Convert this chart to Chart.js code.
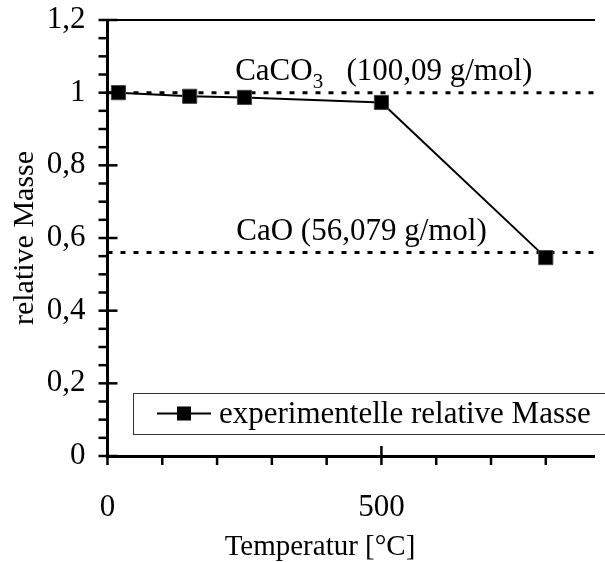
<!DOCTYPE html>
<html>
<head>
<meta charset="utf-8">
<script src="https://cdn.jsdelivr.net/npm/chart.js@4.4.0/dist/chart.umd.min.js"></script>
<style>
  html, body { margin: 0; padding: 0; background: #fff; overflow: hidden; }
  canvas { display: block; }
</style>
</head>
<body>
<canvas id="chart" width="605" height="562"></canvas>
<script>
const temps = [20, 150, 250, 500, 800];
const relMass = [1.0, 0.99, 0.987, 0.973, 0.546];
const seriesLabel = 'experimentelle relative Masse';

const refLevels = [1.0, 0.5603];
const refNames = ['CaCO', 'CaO'];
const refSubs = ['3', ''];
const refMolar = ['   (100,09 g/mol)', ' (56,079 g/mol)'];
const refLabelX = [233, 235];
const refLabelY = [1.035, 0.594];

const xMin = 0, xMax = 888;
const xLabelTicks = [0, 500];
const yLabelEvery = 0.2;

const serif = "'Liberation Serif', 'Times New Roman', serif";
const fs = 31;

const mainData = temps.map((t, i) => ({ x: t, y: relMass[i] }));
const refDatasets = refLevels.map(level => ({
    label: 'ref',
    data: [{ x: xMin, y: level }, { x: xMax, y: level }],
    borderColor: '#000',
    borderWidth: 3,
    borderDash: [5, 8],
    pointRadius: 0,
    showLine: true,
    fill: false
}));

const tickMarks = {
    id: 'tickMarks',
    afterDraw(chart) {
        const ctx = chart.ctx;
        const x = chart.scales.x, y = chart.scales.y;
        const ax = x.left, ay = y.bottom;
        ctx.save();
        ctx.strokeStyle = '#000';
        ctx.lineWidth = 2.5;
        y.ticks.forEach(t => {
            const py = y.getPixelForValue(t.value);
            const major = Math.abs(t.value / yLabelEvery - Math.round(t.value / yLabelEvery)) < 1e-6;
            ctx.beginPath();
            ctx.moveTo(ax - 9, py);
            ctx.lineTo(major ? ax + 10 : ax, py);
            ctx.stroke();
        });
        x.ticks.forEach(t => {
            const px = x.getPixelForValue(t.value);
            const major = xLabelTicks.includes(t.value);
            ctx.beginPath();
            ctx.moveTo(px, ay + 9);
            ctx.lineTo(px, major ? ay - 10 : ay);
            ctx.stroke();
        });
        ctx.restore();
    }
};

const annotations = {
    id: 'annotations',
    afterDatasetsDraw(chart) {
        const ctx = chart.ctx;
        const x = chart.scales.x, y = chart.scales.y;
        ctx.save();
        ctx.fillStyle = '#000';
        ctx.textBaseline = 'alphabetic';
        ctx.textAlign = 'left';
        refNames.forEach((name, i) => {
            let px = x.getPixelForValue(refLabelX[i]);
            const py = y.getPixelForValue(refLabelY[i]);
            ctx.font = fs + 'px ' + serif;
            ctx.fillText(name, px, py);
            px += ctx.measureText(name).width;
            if (refSubs[i]) {
                ctx.font = '21px ' + serif;
                ctx.fillText(refSubs[i], px, py + 8);
                px += ctx.measureText(refSubs[i]).width;
            }
            ctx.font = fs + 'px ' + serif;
            ctx.fillText(refMolar[i], px, py);
        });
        ctx.restore();
    }
};

const boxLegend = {
    id: 'boxLegend',
    afterDraw(chart) {
        const ctx = chart.ctx;
        const ds = chart.data.datasets[0];
        const left = 133, top = 393, h = 41;
        const cy = top + h / 2;
        ctx.save();
        ctx.fillStyle = '#fff';
        ctx.fillRect(left, top, chart.width - left + 5, h);
        ctx.strokeStyle = '#333';
        ctx.lineWidth = 1;
        ctx.strokeRect(left + 0.5, top + 0.5, chart.width - left + 5, h);
        ctx.strokeStyle = ds.borderColor;
        ctx.lineWidth = ds.borderWidth;
        ctx.beginPath();
        ctx.moveTo(157, cy);
        ctx.lineTo(211, cy);
        ctx.stroke();
        ctx.fillStyle = ds.pointBackgroundColor;
        ctx.fillRect(177, cy - 7, 14, 14);
        ctx.fillStyle = '#000';
        ctx.font = fs + 'px ' + serif;
        ctx.textBaseline = 'middle';
        ctx.fillText(ds.label, 219, cy + 1);
        ctx.restore();
    }
};

const xTitle = {
    id: 'xTitle',
    afterDraw(chart) {
        const ctx = chart.ctx;
        ctx.save();
        ctx.fillStyle = '#000';
        ctx.font = '29px ' + serif;
        ctx.textAlign = 'center';
        ctx.textBaseline = 'middle';
        ctx.fillText('Temperatur [°C]', 320, 547);
        ctx.restore();
    }
};

new Chart(document.getElementById('chart').getContext('2d'), {
    type: 'scatter',
    data: {
        datasets: [
            {
                label: seriesLabel,
                data: mainData,
                showLine: true,
                borderColor: '#000',
                borderWidth: 2,
                pointStyle: 'rect',
                pointRadius: 10,
                pointBackgroundColor: '#000',
                pointBorderColor: '#444',
                pointBorderWidth: 1,
                tension: 0
            },
            ...refDatasets
        ]
    },
    options: {
        responsive: false,
        animation: false,
        layout: { padding: 0 },
        plugins: {
            legend: { display: false },
            tooltip: { enabled: false }
        },
        scales: {
            x: {
                type: 'linear',
                position: 'bottom',
                min: xMin,
                max: xMax,
                afterFit(s) { s.height = 106; s.paddingLeft = 0; s.paddingRight = 0; },
                grid: { display: false, drawTicks: false },
                border: { display: true, color: '#000', width: 3 },
                ticks: {
                    stepSize: 100,
                    includeBounds: false,
                    autoSkip: false,
                    maxRotation: 0,
                    padding: 33,
                    color: '#000',
                    font: { family: serif, size: 31 },
                    callback: v => xLabelTicks.includes(v) ? String(v) : ''
                }
            },
            x2: {
                type: 'linear',
                position: 'top',
                min: xMin,
                max: xMax,
                afterFit(s) { s.height = 20; s.paddingLeft = 0; s.paddingRight = 0; },
                grid: { display: false, drawTicks: false },
                border: { display: true, color: '#000', width: 2 },
                ticks: { display: false }
            },
            y: {
                min: 0,
                max: 1.2,
                afterFit(s) { s.width = 107.5; s.paddingTop = 0; s.paddingBottom = 0; },
                grid: { display: false, drawTicks: false },
                border: { display: true, color: '#000', width: 3 },
                title: {
                    display: true,
                    text: 'relative Masse',
                    color: '#000',
                    font: { family: serif, size: 30 },
                    padding: { top: 7, bottom: 0 }
                },
                ticks: {
                    stepSize: 0.05,
                    autoSkip: false,
                    padding: 22,
                    color: '#000',
                    font: { family: serif, size: 31 },
                    callback: v => {
                        const r = v / yLabelEvery;
                        if (Math.abs(r - Math.round(r)) > 1e-6) return '';
                        return String(Math.round(v * 10) / 10).replace('.', ',');
                    }
                }
            }
        }
    },
    plugins: [tickMarks, annotations, boxLegend, xTitle]
});
</script>
</body>
</html>
